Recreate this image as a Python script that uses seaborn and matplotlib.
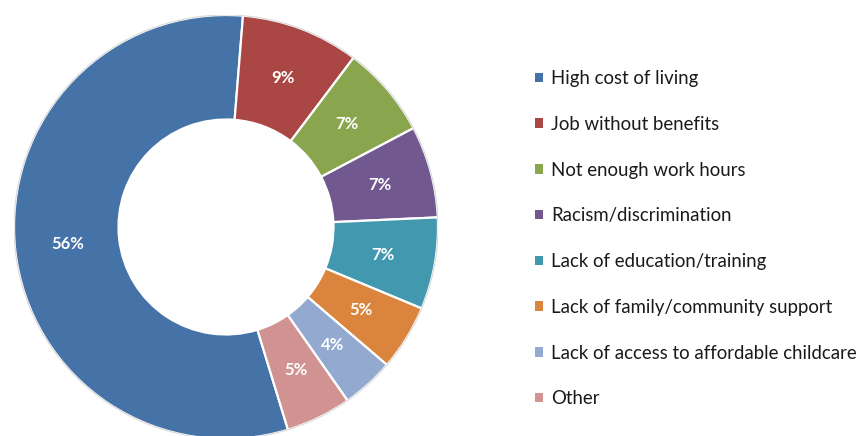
import matplotlib
matplotlib.use("Agg")
import matplotlib.pyplot as plt
import seaborn as sns
from matplotlib.patches import Patch

categories = ["High cost of living", "Job without benefits", "Not enough work hours",
              "Racism/discrimination", "Lack of education/training",
              "Lack of family/community support", "Lack of access to affordable childcare",
              "Other"]
values = [56, 9, 7, 7, 7, 5, 4, 5]
pct_labels = ["56%", "9%", "7%", "7%", "7%", "5%", "4%", "5%"]
colors = ["#4572A7", "#AA4643", "#89A54E", "#71588F", "#4198AF", "#DB843D", "#93A9CF", "#D19392"]

sns.set_theme(style="white")
plt.rcParams["font.family"] = ["Lato", "DejaVu Sans"]

W, H = 859, 436
fig = plt.figure(figsize=(W / 100, H / 100), dpi=100)
cx, cy, R = 226, 227, 212
ax = fig.add_axes([(cx - R) / W, (H - cy - R) / H, 2 * R / W, 2 * R / H])

end_angle = 85.4
start = end_angle + values[0] / sum(values) * 360
wedges, texts = ax.pie(values, colors=colors, startangle=start, counterclock=False,
                       radius=1.0,
                       wedgeprops=dict(width=0.493, edgecolor="white", linewidth=1.6),
                       labels=pct_labels, labeldistance=0.75,
                       textprops=dict(color="white", fontsize=12, fontweight="bold",
                                      ha="center", va="center"))
for t in texts:
    t.set_horizontalalignment("center")
ax.add_patch(plt.Circle((0, 0), 1.0, fill=False, edgecolor="#d9d9d9", linewidth=0.8))
ax.set_xlim(-1, 1)
ax.set_ylim(-1, 1)
ax.set_aspect("equal")
ax.axis("off")

handles = [Patch(facecolor=c, edgecolor="none") for c in colors]
leg = fig.legend(handles, categories, loc="upper left",
                 bbox_to_anchor=(535 / W, 1 - 70 / H), frameon=False,
                 fontsize=13.4, handlelength=0.42, handleheight=0.42,
                 handletextpad=0.45, labelspacing=1.545, borderaxespad=0, borderpad=0)
for t in leg.get_texts():
    t.set_color("#1a1a1a")

fig.savefig("out.png", dpi=100, facecolor="white")
